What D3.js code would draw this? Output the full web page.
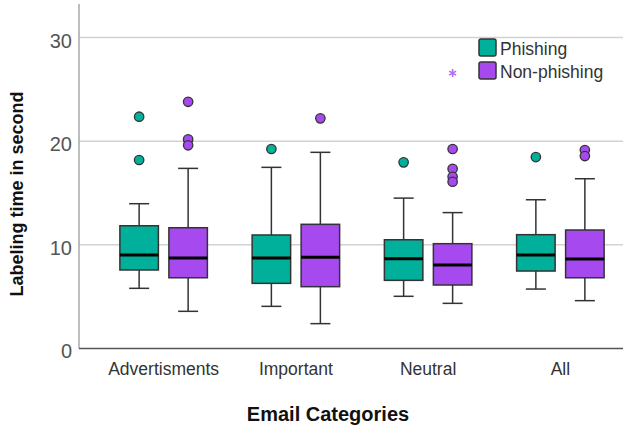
<!DOCTYPE html>
<html>
<head>
<meta charset="utf-8">
<script src="https://cdn.jsdelivr.net/npm/d3@7"></script>
<style>
  html, body { margin: 0; padding: 0; background: #fff; }
  svg { display: block; font-family: "Liberation Sans", Arial, sans-serif; }
</style>
</head>
<body>
<svg id="chart" width="623" height="427"></svg>
<script>
const categories = ["Advertisments", "Important", "Neutral", "All"];
const groups = ["Phishing", "Non-phishing"];
const yTicks = [0, 10, 20, 30];

// Phishing
const phWhiskerLow  = [5.79, 4.05, 5.02, 5.72];
const phQ1          = [7.56, 6.27, 6.56, 7.46];
const phMedian      = [9.00, 8.72, 8.65, 9.00];
const phQ3          = [11.83, 10.94, 10.48, 10.97];
const phWhiskerHigh = [13.96, 17.47, 14.50, 14.34];
const phOutliers    = [[22.36, 18.18], [19.24], [17.95], [18.46]];
const phExtremes    = [[], [], [], []];

// Non-phishing
const npWhiskerLow  = [3.57, 2.38, 4.34, 4.60];
const npQ1          = [6.81, 5.95, 6.11, 6.81];
const npMedian      = [8.72, 8.78, 8.04, 8.62];
const npQ3          = [11.64, 11.97, 10.10, 11.42];
const npWhiskerHigh = [17.37, 18.92, 13.10, 16.37];
const npOutliers    = [[23.8, 20.17, 19.6], [22.2], [19.24, 17.33, 16.56, 16.08], [19.14, 18.56]];
const npExtremes    = [[], [], [26.57], []];

const colors = { "Phishing": "#00b09b", "Non-phishing": "#a64af0" };
const starColor = "#b46cf2";

const series = [
  { name: "Phishing", lo: phWhiskerLow, q1: phQ1, med: phMedian, q3: phQ3, hi: phWhiskerHigh, out: phOutliers, ext: phExtremes },
  { name: "Non-phishing", lo: npWhiskerLow, q1: npQ1, med: npMedian, q3: npQ3, hi: npWhiskerHigh, out: npOutliers, ext: npExtremes }
];

const svg = d3.select("#chart");
const plotLeft = 79, plotRight = 623, plotTop = 4, plotBottom = 348.5;

const y = d3.scaleLinear().domain([0, 33.24]).range([348.3, plotTop]);
const x = d3.scaleBand().domain(categories).range([79, 645]).paddingOuter(0.14).paddingInner(0);
const xo = d3.scalePoint().domain(groups).range([-24.5, 24.5]);
const boxW = 38.5, capW = 20;

// gridlines
svg.append("g").selectAll("line").data(yTicks.filter(d => d > 0)).join("line")
  .attr("x1", plotLeft).attr("x2", plotRight)
  .attr("y1", d => y(d)).attr("y2", d => y(d))
  .attr("stroke", "#d2d2d2").attr("stroke-width", 1.5);

// axes lines
svg.append("line").attr("x1", plotLeft).attr("x2", plotLeft).attr("y1", plotTop).attr("y2", plotBottom)
  .attr("stroke", "#a8a8a8").attr("stroke-width", 1.5);
svg.append("line").attr("x1", plotLeft).attr("x2", plotRight).attr("y1", plotBottom).attr("y2", plotBottom)
  .attr("stroke", "#555").attr("stroke-width", 1.5);

// y tick labels
svg.append("g").selectAll("text").data(yTicks).join("text")
  .attr("x", 72).attr("y", d => y(d)).attr("dy", "0.5em")
  .attr("text-anchor", "end").attr("font-size", 20).attr("fill", "#555")
  .text(d => d);

// x category labels
svg.append("g").selectAll("text").data(categories).join("text")
  .attr("x", d => x(d) + x.bandwidth() / 2).attr("y", 374.5)
  .attr("text-anchor", "middle").attr("font-size", 17.5).attr("fill", "#333")
  .text(d => d);

// axis titles
svg.append("text").attr("x", 328).attr("y", 421).attr("text-anchor", "middle")
  .attr("font-size", 20).attr("font-weight", "bold").attr("fill", "#111")
  .text("Email Categories");
svg.append("text").attr("transform", "translate(23,194) rotate(-90)")
  .attr("text-anchor", "middle").attr("font-size", 18).attr("font-weight", "bold").attr("fill", "#111")
  .text("Labeling time in second");

// boxes
const star = d3.symbol().type(d3.symbolAsterisk).size(45);
series.forEach(s => {
  const g = svg.append("g");
  categories.forEach((c, i) => {
    const cx = x(c) + x.bandwidth() / 2 + xo(s.name);
    // whiskers
    g.append("line").attr("x1", cx).attr("x2", cx).attr("y1", y(s.q3[i])).attr("y2", y(s.hi[i]))
      .attr("stroke", "#333").attr("stroke-width", 1.5);
    g.append("line").attr("x1", cx).attr("x2", cx).attr("y1", y(s.q1[i])).attr("y2", y(s.lo[i]))
      .attr("stroke", "#333").attr("stroke-width", 1.5);
    g.append("line").attr("x1", cx - capW / 2).attr("x2", cx + capW / 2).attr("y1", y(s.hi[i])).attr("y2", y(s.hi[i]))
      .attr("stroke", "#333").attr("stroke-width", 1.5);
    g.append("line").attr("x1", cx - capW / 2).attr("x2", cx + capW / 2).attr("y1", y(s.lo[i])).attr("y2", y(s.lo[i]))
      .attr("stroke", "#333").attr("stroke-width", 1.5);
    // box
    g.append("rect").attr("x", cx - boxW / 2).attr("width", boxW)
      .attr("y", y(s.q3[i])).attr("height", y(s.q1[i]) - y(s.q3[i]))
      .attr("fill", colors[s.name]).attr("stroke", "#333").attr("stroke-width", 1.5);
    // median
    g.append("line").attr("x1", cx - boxW / 2).attr("x2", cx + boxW / 2).attr("y1", y(s.med[i])).attr("y2", y(s.med[i]))
      .attr("stroke", "#000").attr("stroke-width", 3);
    // outliers
    g.selectAll(null).data(s.out[i]).join("circle")
      .attr("cx", cx).attr("cy", d => y(d)).attr("r", 4.7)
      .attr("fill", colors[s.name]).attr("stroke", "#333").attr("stroke-width", 1.3);
    // extremes
    g.selectAll(null).data(s.ext[i]).join("path")
      .attr("transform", d => `translate(${cx},${y(d)})`)
      .attr("d", star)
      .attr("fill", "none").attr("stroke", starColor).attr("stroke-width", 1.6);
  });
});

// legend
const legend = svg.append("g");
groups.forEach((gname, i) => {
  const ly = 39 + i * 23;
  legend.append("rect").attr("x", 479).attr("y", ly).attr("width", 17).attr("height", 17).attr("rx", 2)
    .attr("fill", colors[gname]).attr("stroke", "#333").attr("stroke-width", 1.5);
  legend.append("text").attr("x", 500).attr("y", ly + 16).attr("font-size", 17.5).attr("fill", "#333")
    .text(gname);
});
</script>
</body>
</html>
